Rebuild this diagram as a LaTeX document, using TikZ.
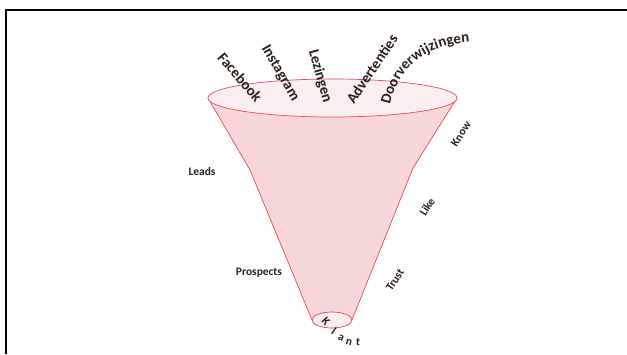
\documentclass[tikz,border=0pt]{standalone}
\usepackage{fontspec}
\setmainfont{Carlito}
\usetikzlibrary{decorations.text}
\definecolor{funnelred}{HTML}{E8475A}
\definecolor{bodypink}{HTML}{F6D6D9}
\definecolor{toppink}{HTML}{FAEEF0}
\definecolor{inktext}{HTML}{2A1E18}
\tikzset{
  channel/.style={font=\fontsize{15}{17}\selectfont\bfseries, text=inktext, inner sep=0pt},
  stage/.style={font=\fontsize{11.5}{13}\selectfont\bfseries, text=inktext, inner sep=0pt},
  letter/.style={font=\fontsize{11.5}{13}\selectfont\bfseries, text=inktext, inner sep=0pt},
}

\begin{document}
\begin{tikzpicture}[x=1bp,y=-1bp]
\useasboundingbox (0,0) rectangle (627,354);
% frame
\draw [line width=2.4bp] (6,354) -- (6,10) -- (627,10);
% funnel outline points
\coordinate (tl) at (208,98);
\coordinate (tr) at (457,98);
\coordinate (kl) at (250,170);
\coordinate (kr) at (413,168);
\coordinate (bl) at (312,320);
\coordinate (br) at (352,320);
\fill [bodypink] (tl) -- (kl) -- (bl) -- (br) -- (kr) -- (tr) -- cycle;
\draw [funnelred, line width=0.7bp] (tl) -- (kl) -- (bl);
\draw [funnelred, line width=0.7bp] (tr) -- (kr) -- (br);
\draw [funnelred, fill=toppink, line width=0.7bp] (332.5,98) ellipse (124.5 and 19);
\draw [funnelred, fill=toppink, line width=0.7bp] (332,320) ellipse (20 and 8);
% channels at the top
\node [channel, rotate=-49] (facebook) at (240,77) {Facebook};
\node [channel, rotate=-60] (instagram) at (280,73) {Instagram};
\node [channel, rotate=-74] (lezingen) at (320,76) {Lezingen};
\node [channel, rotate=56] (advert) at (372,69) {Advertenties};
\path [decorate, decoration={text along path, text align=center,
    text={|\fontsize{15}{17}\selectfont\bfseries\color{inktext}|Doorverwijzingen}}]
  (389,109) .. controls (397,68) and (425,44) .. (474,42);
% stages on both sides
\node [stage] (leads) at (202,172) {Leads};
\node [stage] (prospects) at (259,273) {Prospects};
\node [stage, rotate=57] (know) at (461,134) {Know};
\node [stage, rotate=57] (like) at (427,207) {Like};
\node [stage, rotate=57] (trust) at (395,280) {Trust};
% customer under the funnel, letter by letter
\node [letter, rotate=-48] (k1) at (326,321) {K};
\node [letter, rotate=-35] (k2) at (334,331) {l};
\node [letter, rotate=-22] (k3) at (341,338) {a};
\node [letter, rotate=-12] (k4) at (349,342) {n};
\node [letter, rotate=-4]  (k5) at (358,342) {t};
\end{tikzpicture}
\end{document}
